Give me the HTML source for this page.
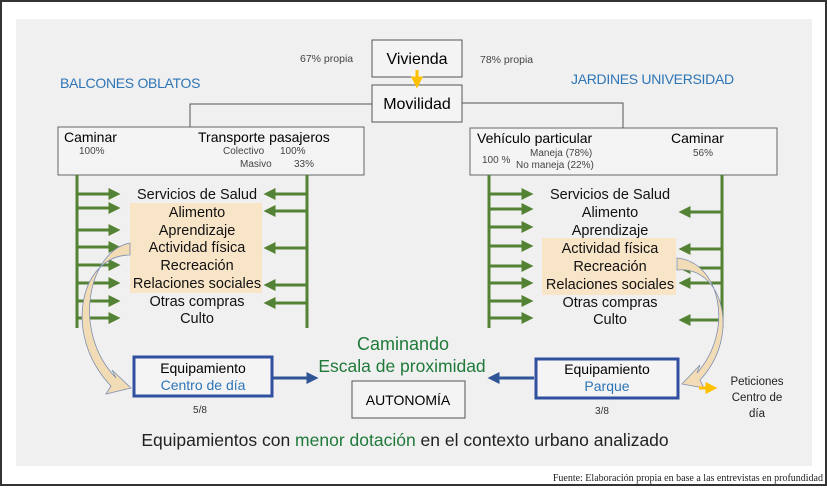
<!DOCTYPE html>
<html><head><meta charset="utf-8"><style>
html,body{margin:0;padding:0;background:#fff;}
svg{display:block;font-family:"Liberation Sans",sans-serif;}
</style></head><body>
<svg width="827" height="502" viewBox="0 0 827 502" xmlns="http://www.w3.org/2000/svg">
<defs>
<marker id="g" markerWidth="4" markerHeight="4" refX="2.5" refY="2" orient="auto" markerUnits="strokeWidth"><path d="M0,0 L4,2 L0,4 Z" fill="#548235"/></marker>
<marker id="b" markerWidth="4" markerHeight="4" refX="2.5" refY="2" orient="auto" markerUnits="strokeWidth"><path d="M0,0 L4,2 L0,4 Z" fill="#2f5597"/></marker>
<marker id="o" markerWidth="4" markerHeight="4" refX="2.5" refY="2" orient="auto" markerUnits="strokeWidth"><path d="M0,0 L4,2 L0,4 Z" fill="#ffc000"/></marker>
</defs>
<rect x="0" y="0" width="827" height="502" fill="#fff"/>
<rect x="1" y="1" width="825" height="484" fill="none" stroke="#333" stroke-width="2"/>
<rect x="16" y="19" width="796" height="447" fill="#f0f0f0"/>

<rect x="372" y="40" width="90" height="37" fill="#f4f4f4" stroke="#555"/>
<text x="417" y="64" font-size="16" text-anchor="middle">Vivienda</text>
<rect x="372" y="85" width="90" height="37" fill="#f4f4f4" stroke="#555"/>
<text x="417" y="109" font-size="16" text-anchor="middle">Movilidad</text>
<line x1="417" y1="70" x2="417" y2="84" stroke="#ffc000" stroke-width="3" marker-end="url(#o)"/>
<text x="300" y="62" font-size="10.5" fill="#444">67% propia</text>
<text x="480" y="63" font-size="10.5" fill="#444">78% propia</text>
<text x="60" y="88" font-size="14" fill="#2e75b6" letter-spacing="-0.3">BALCONES OBLATOS</text>
<text x="571" y="84" font-size="14" fill="#2e75b6" letter-spacing="-0.3">JARDINES UNIVERSIDAD</text>
<polyline points="372,104 190,104 190,127" fill="none" stroke="#555"/>
<polyline points="462,103 623,103 623,128" fill="none" stroke="#555"/>

<rect x="58" y="127" width="306" height="48" fill="#f4f4f4" stroke="#666"/>
<text x="64" y="142" font-size="14">Caminar</text>
<text x="79" y="154" font-size="10" fill="#444">100%</text>
<text x="198" y="142" font-size="14">Transporte pasajeros</text>
<text x="223" y="154" font-size="10" fill="#444">Colectivo</text>
<text x="280" y="154" font-size="10" fill="#444">100%</text>
<text x="240" y="167" font-size="10" fill="#444">Masivo</text>
<text x="294" y="167" font-size="10" fill="#444">33%</text>

<rect x="470" y="128" width="307" height="47" fill="#f4f4f4" stroke="#666"/>
<text x="477" y="143" font-size="14">Vehículo particular</text>
<text x="482" y="163" font-size="10" fill="#444">100 %</text>
<text x="530" y="156" font-size="10" fill="#444">Maneja (78%)</text>
<text x="516" y="168" font-size="10" fill="#444">No maneja (22%)</text>
<text x="671" y="143" font-size="14">Caminar</text>
<text x="693" y="156" font-size="10" fill="#444">56%</text>

<rect x="130" y="203" width="132" height="90" fill="#f8e5c8"/>
<rect x="542" y="238" width="134" height="57" fill="#f8e5c8"/>

<g stroke="#548235" stroke-width="3" fill="none">
<line x1="77" y1="175" x2="77" y2="328"/>
<line x1="307" y1="175" x2="307" y2="328"/>
<line x1="77" y1="194" x2="116" y2="194" marker-end="url(#g)"/>
<line x1="77" y1="208" x2="116" y2="208" marker-end="url(#g)"/>
<line x1="77" y1="230" x2="116" y2="230" marker-end="url(#g)"/>
<line x1="77" y1="247" x2="116" y2="247" marker-end="url(#g)"/>
<line x1="77" y1="265" x2="116" y2="265" marker-end="url(#g)"/>
<line x1="77" y1="283" x2="116" y2="283" marker-end="url(#g)"/>
<line x1="77" y1="301" x2="116" y2="301" marker-end="url(#g)"/>
<line x1="77" y1="318" x2="116" y2="318" marker-end="url(#g)"/>
<line x1="307" y1="194" x2="268" y2="194" marker-end="url(#g)"/>
<line x1="307" y1="211" x2="268" y2="211" marker-end="url(#g)"/>
<line x1="307" y1="248" x2="268" y2="248" marker-end="url(#g)"/>
<line x1="307" y1="285" x2="268" y2="285" marker-end="url(#g)"/>
<line x1="307" y1="303" x2="268" y2="303" marker-end="url(#g)"/>
<line x1="489" y1="175" x2="489" y2="328"/>
<line x1="722" y1="175" x2="722" y2="328"/>
<line x1="489" y1="194" x2="529" y2="194" marker-end="url(#g)"/>
<line x1="489" y1="209" x2="529" y2="209" marker-end="url(#g)"/>
<line x1="489" y1="227" x2="529" y2="227" marker-end="url(#g)"/>
<line x1="489" y1="246" x2="529" y2="246" marker-end="url(#g)"/>
<line x1="489" y1="266" x2="529" y2="266" marker-end="url(#g)"/>
<line x1="489" y1="283" x2="529" y2="283" marker-end="url(#g)"/>
<line x1="489" y1="301" x2="529" y2="301" marker-end="url(#g)"/>
<line x1="489" y1="318" x2="529" y2="318" marker-end="url(#g)"/>
<line x1="722" y1="212" x2="683" y2="212" marker-end="url(#g)"/>
<line x1="722" y1="249" x2="683" y2="249" marker-end="url(#g)"/>
<line x1="722" y1="268" x2="683" y2="268" marker-end="url(#g)"/>
<line x1="722" y1="283" x2="683" y2="283" marker-end="url(#g)"/>
<line x1="722" y1="320" x2="683" y2="320" marker-end="url(#g)"/>
</g>

<g font-size="14.5" text-anchor="middle" fill="#111">
<text x="197" y="199">Servicios de Salud</text>
<text x="197" y="217">Alimento</text>
<text x="197" y="235">Aprendizaje</text>
<text x="197" y="252">Actividad física</text>
<text x="197" y="270">Recreación</text>
<text x="197" y="288">Relaciones sociales</text>
<text x="197" y="306">Otras compras</text>
<text x="197" y="323">Culto</text>
<text x="610" y="199">Servicios de Salud</text>
<text x="610" y="217">Alimento</text>
<text x="610" y="235">Aprendizaje</text>
<text x="610" y="253">Actividad física</text>
<text x="610" y="271">Recreación</text>
<text x="610" y="289">Relaciones sociales</text>
<text x="610" y="307">Otras compras</text>
<text x="610" y="324">Culto</text>
</g>

<path d="M130,243 C90,250 70,330 116,378 L112,370 L131,388 L106,394 L111,386 C62,335 80,255 130,255 Z" fill="#f2dcb6" stroke="#7f8fb0" stroke-width="0.8"/>
<path d="M677,258 C720,262 735,330 697,373 L700,365 L682,384 L704,388 L700,380 C742,335 722,265 677,270 Z" fill="#f2dcb6" stroke="#7f8fb0" stroke-width="0.8"/>

<rect x="134" y="357" width="138" height="39" fill="#f4f4f4" stroke="#2f4f9f" stroke-width="3"/>
<text x="203" y="373" font-size="14" text-anchor="middle">Equipamiento</text>
<text x="203" y="390" font-size="14" text-anchor="middle" fill="#2e75b6">Centro de día</text>
<text x="200" y="413" font-size="10" text-anchor="middle" fill="#333">5/8</text>
<line x1="273" y1="378" x2="314" y2="378" stroke="#2f5597" stroke-width="3" marker-end="url(#b)"/>
<rect x="536" y="359" width="142" height="39" fill="#f4f4f4" stroke="#2f4f9f" stroke-width="3"/>
<text x="607" y="374" font-size="14" text-anchor="middle">Equipamiento</text>
<text x="607" y="391" font-size="14" text-anchor="middle" fill="#2e75b6">Parque</text>
<text x="602" y="414" font-size="10" text-anchor="middle" fill="#333">3/8</text>
<line x1="534" y1="378" x2="492" y2="378" stroke="#2f5597" stroke-width="3" marker-end="url(#b)"/>

<text x="403" y="350" font-size="18" text-anchor="middle" fill="#1f7a3a">Caminando</text>
<text x="402" y="372" font-size="17.5" text-anchor="middle" fill="#1f7a3a">Escala de proximidad</text>
<rect x="352" y="381" width="113" height="37" fill="#f4f4f4" stroke="#555"/>
<text x="408" y="405" font-size="14" text-anchor="middle">AUTONOMÍA</text>

<line x1="699" y1="388" x2="713" y2="388" stroke="#ffc000" stroke-width="3" marker-end="url(#o)"/>
<g font-size="11.5" text-anchor="middle" fill="#222">
<text x="757" y="385">Peticiones</text>
<text x="757" y="401">Centro de</text>
<text x="757" y="417">día</text>
</g>

<text x="405" y="446" font-size="17.5" text-anchor="middle" fill="#222">Equipamientos con <tspan fill="#1f7a3a">menor dotación</tspan> en el contexto urbano analizado</text>
<text x="823" y="481" font-size="10" text-anchor="end" font-family="Liberation Serif,serif" fill="#222">Fuente: Elaboración propia en base a las entrevistas en profundidad</text>
</svg>
</body></html>
